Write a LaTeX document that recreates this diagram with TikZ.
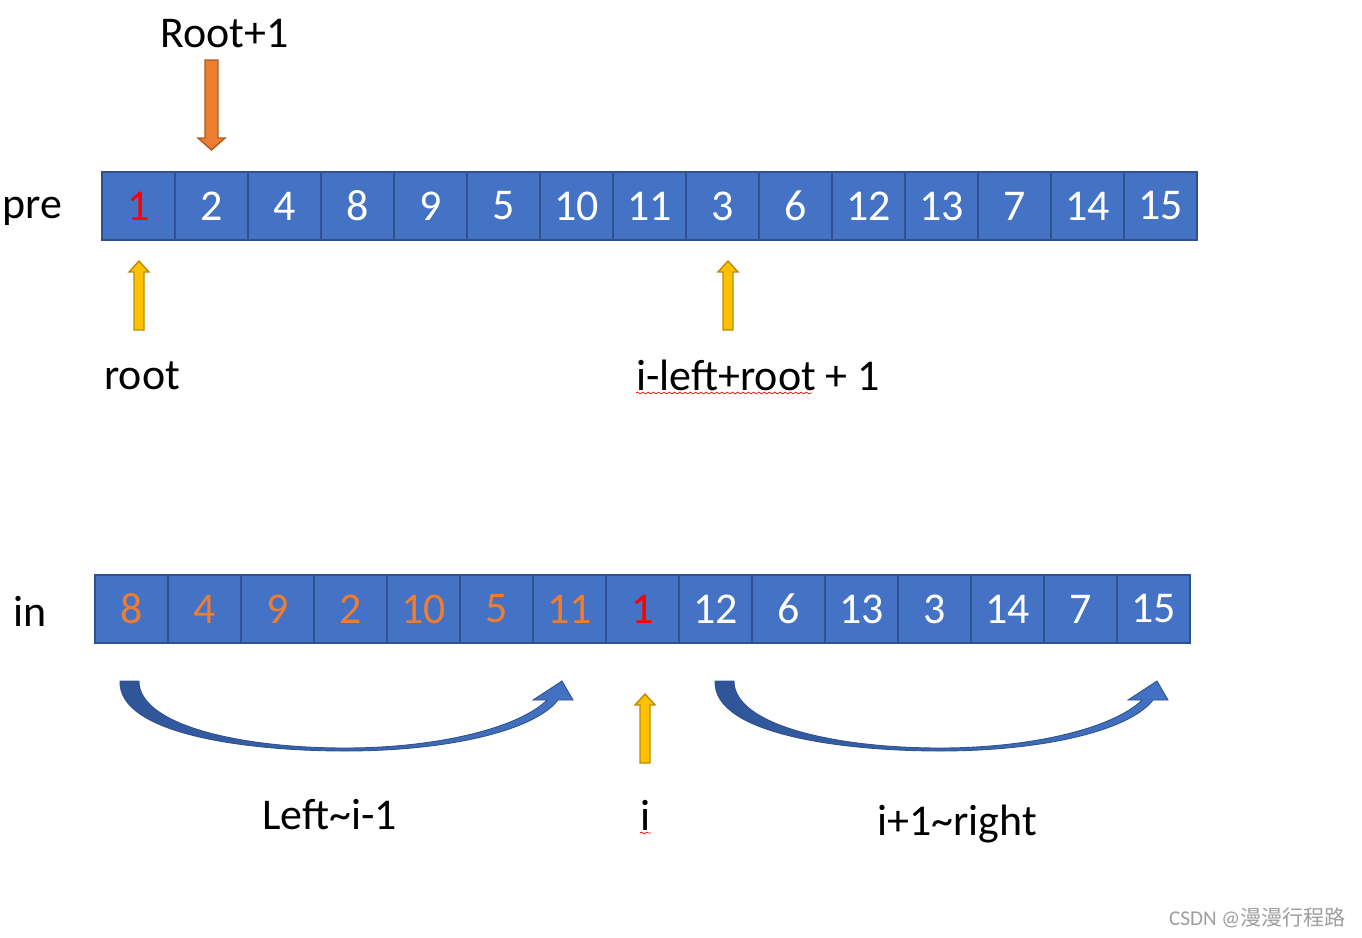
\documentclass[tikz,border=0pt]{standalone}
\usepackage{fontspec}
\setmainfont{Carlito}
\newfontfamily\cjkfont{Noto Sans CJK SC}
\usetikzlibrary{decorations.pathmorphing}

\definecolor{cellblue}{RGB}{68, 114, 196}
\definecolor{cellline}{RGB}{47, 82, 143}
\definecolor{darkblue}{RGB}{47, 85, 151}
\definecolor{orangeA}{RGB}{237, 125, 49}
\definecolor{orangeB}{RGB}{174, 90, 33}
\definecolor{yellowA}{RGB}{255, 192, 0}
\definecolor{yellowB}{RGB}{188, 140, 0}

\tikzset{
  cell/.style={draw=cellline, fill=cellblue, line width=1pt, minimum width=1.46cm,
    minimum height=1.36cm, inner sep=0pt, font=\fontsize{25}{30}\selectfont},
  lbl/.style={anchor=base west, inner sep=0pt, font=\fontsize{25}{30}\selectfont},
  yarrow/.style={draw=yellowB, fill=yellowA, line width=0.8pt},
  oarrow/.style={draw=orangeB, fill=orangeA, line width=0.8pt},
  barrow/.style={draw=cellline, line width=0.5pt, left color=darkblue, right color=cellblue},
  spell/.style={red, line width=0.4pt, decorate,
    decoration={snake, amplitude=0.5pt, segment length=3pt}}
}

\begin{document}
\begin{tikzpicture}[x=0.02cm, y=-0.02cm]

  \useasboundingbox (0,0) rectangle (1362,937);

  % pre order row
  \foreach \v/\c [count=\k] in {1/red,2/white,4/white,8/white,9/white,5/white,10/white,
      11/white,3/white,6/white,12/white,13/white,7/white,14/white,15/white}
    \node[cell, text=\c] (pre\k) at ({138.5+73*(\k-1)}, 206) {\v};

  % in order row
  \foreach \v/\c [count=\k] in {8/orangeA,4/orangeA,9/orangeA,2/orangeA,10/orangeA,
      5/orangeA,11/orangeA,1/red,12/white,6/white,13/white,3/white,14/white,7/white,15/white}
    \node[cell, text=\c] (in\k) at ({131.5+73*(\k-1)}, 609) {\v};

  % Labels
  \node[lbl] (pre) at (2, 218) {pre};
  \node[lbl] (in) at (13, 626) {in};
  \node[lbl] (rootone) at (160, 47) {Root+1};
  \node[lbl] (root) at (104, 389) {root};
  \node[lbl] (split) at (636, 390) {i-left+root + 1};
  \node[lbl] (leftpart) at (262, 829) {Left\char"007E i-1};
  \node[lbl] (ipos) at (640, 830) {i};
  \node[lbl] (rightpart) at (877, 835) {i+1\char"007E right};
  \node[anchor=base east, inner sep=0pt, text=black!38, font=\fontsize{12}{14}\selectfont]
    (mark) at (1346, 925) {CSDN @\cjkfont 漫漫行程路};

  % spelling marks
  \draw[spell] (636, 393) -- (812, 393);
  \draw[spell] (640, 833) -- (651, 833);

  % Root+1 arrow (orange, down)
  \draw[oarrow] (205, 60) -- (218, 60) -- (218, 138) -- (225, 138) -- (211.5, 150)
    -- (198, 138) -- (205, 138) -- cycle;

  % yellow arrows (up)
  \foreach \cx/\ty in {139/261, 728/261, 645/694}
    \draw[yarrow] (\cx-5, \ty+69) -- (\cx-5, \ty+11) -- (\cx-10, \ty+11) -- (\cx, \ty)
      -- (\cx+10, \ty+11) -- (\cx+5, \ty+11) -- (\cx+5, \ty+69) -- cycle;

  % curved arrows
  \foreach \dx in {0, 595}
    \draw[barrow] (120+\dx, 681) .. controls (118+\dx, 735) and (250+\dx, 751) .. (345+\dx, 751)
      .. controls (450+\dx, 751) and (535+\dx, 730) .. (558+\dx, 700)
      -- (573+\dx, 700) -- (562+\dx, 681) -- (533+\dx, 700) -- (547+\dx, 700)
      .. controls (520+\dx, 727) and (440+\dx, 748) .. (345+\dx, 748)
      .. controls (240+\dx, 748) and (139+\dx, 725) .. (139+\dx, 681) -- cycle;

\end{tikzpicture}
\end{document}
